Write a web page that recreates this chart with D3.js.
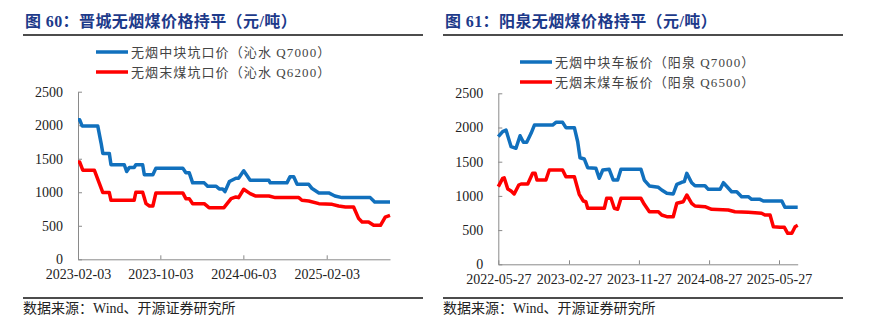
<!DOCTYPE html>
<html>
<head>
<meta charset="utf-8">
<script src="https://cdn.jsdelivr.net/npm/d3@7/dist/d3.min.js"></script>
<style>
  html, body { margin: 0; padding: 0; background: #fff; }
  svg { display: block; }
</style>
</head>
<body>
<svg id="chart" width="885" height="336"></svg>
<script>
// ---------------- Data ----------------
const titles = ["图 60：晋城无烟煤价格持平（元/吨）", "图 61：阳泉无烟煤价格持平（元/吨）"];
const legendLeft = ["无烟中块坑口价（沁水 Q7000）", "无烟末煤坑口价（沁水 Q6200）"];
const legendRight = ["无烟中块车板价（阳泉 Q7000）", "无烟末煤车板价（阳泉 Q6500）"];
const sourceText = "数据来源：Wind、开源证券研究所";
const yTicks = [0, 500, 1000, 1500, 2000, 2500];

const leftXTicks = ["2023-02-03", "2023-10-03", "2024-06-03", "2025-02-03"];
const rightXTicks = ["2022-05-27", "2023-02-27", "2023-11-27", "2024-08-27", "2025-05-27"];

// 晋城 无烟中块坑口价 (沁水 Q7000)
const leftBlueDates = ["2023-02-03","2023-02-08","2023-02-15","2023-04-02","2023-04-12","2023-04-17","2023-05-06","2023-05-11","2023-06-19","2023-06-26","2023-07-04","2023-07-18","2023-07-23","2023-08-12","2023-08-17","2023-09-11","2023-09-20","2023-12-08","2023-12-17","2023-12-27","2024-01-06","2024-02-09","2024-02-19","2024-03-15","2024-03-24","2024-04-03","2024-04-10","2024-04-23","2024-05-12","2024-05-20","2024-06-04","2024-06-23","2024-08-17","2024-08-21","2024-10-09","2024-10-18","2024-10-29","2024-11-08","2024-12-12","2024-12-22","2025-01-11","2025-02-09","2025-02-27","2025-03-20","2025-06-11","2025-06-24","2025-08-08"];
const leftBlue = [2080,2080,1990,1990,1730,1580,1580,1410,1410,1310,1370,1370,1410,1410,1260,1260,1360,1360,1290,1290,1140,1140,1090,1090,1050,1050,1010,1160,1210,1210,1320,1180,1180,1140,1140,1230,1230,1120,1120,1055,990,990,945,920,920,855,855];

// 晋城 无烟末煤坑口价 (沁水 Q6200)
const leftRedDates = ["2023-02-03","2023-02-08","2023-02-17","2023-03-23","2023-04-07","2023-04-17","2023-05-06","2023-05-11","2023-07-18","2023-07-23","2023-08-12","2023-08-22","2023-09-01","2023-09-11","2023-09-20","2023-12-08","2023-12-17","2023-12-27","2024-01-06","2024-02-09","2024-02-23","2024-04-07","2024-04-28","2024-05-12","2024-05-20","2024-06-04","2024-06-23","2024-07-08","2024-08-17","2024-09-05","2024-11-13","2024-11-22","2024-12-12","2025-01-11","2025-02-19","2025-03-10","2025-03-30","2025-04-23","2025-05-08","2025-05-18","2025-06-06","2025-06-21","2025-07-11","2025-07-25","2025-08-08"];
const leftRed = [1450,1450,1330,1330,1130,995,995,880,880,1000,1000,830,795,795,990,990,905,905,830,830,770,770,905,930,920,1045,980,945,945,920,920,880,870,830,820,795,780,780,607,557,557,507,507,630,656];

// 阳泉 无烟中块车板价 (阳泉 Q7000)
const rightBlueDates = ["2022-05-27","2022-06-13","2022-06-26","2022-07-16","2022-08-04","2022-08-20","2022-09-02","2022-09-15","2022-10-02","2022-10-15","2022-12-25","2023-01-07","2023-02-02","2023-02-15","2023-03-20","2023-04-02","2023-04-11","2023-04-28","2023-05-11","2023-06-12","2023-06-25","2023-07-09","2023-08-03","2023-08-19","2023-09-05","2023-09-18","2023-12-05","2023-12-18","2024-01-07","2024-02-11","2024-02-24","2024-03-15","2024-04-09","2024-04-23","2024-05-12","2024-05-22","2024-06-01","2024-06-20","2024-07-03","2024-08-11","2024-08-24","2024-10-09","2024-10-22","2024-11-23","2024-12-13","2025-01-01","2025-01-27","2025-02-09","2025-03-14","2025-03-27","2025-06-07","2025-06-19","2025-08-08"];
const rightBlue = [1866,1940,1963,1720,1696,1880,1784,1784,1915,2036,2036,2076,2076,1997,1997,1792,1558,1539,1412,1404,1257,1379,1389,1232,1232,1389,1389,1232,1145,1126,1086,1038,1028,1170,1199,1208,1330,1193,1149,1149,1096,1096,1193,1061,1061,988,988,950,950,925,925,833,833];

// 阳泉 无烟末煤车板价 (阳泉 Q6500)
const rightRedDates = ["2022-05-27","2022-06-13","2022-06-19","2022-07-03","2022-07-16","2022-07-28","2022-08-15","2022-08-24","2022-09-19","2022-10-08","2022-10-18","2022-10-25","2022-11-29","2022-12-12","2023-02-02","2023-02-15","2023-03-20","2023-04-08","2023-04-24","2023-05-04","2023-05-11","2023-07-15","2023-07-24","2023-08-10","2023-08-23","2023-09-05","2023-09-18","2023-12-05","2023-12-18","2024-01-07","2024-02-11","2024-02-24","2024-03-15","2024-04-09","2024-04-23","2024-05-18","2024-06-01","2024-06-20","2024-07-03","2024-08-11","2024-09-06","2024-11-10","2024-12-06","2025-01-27","2025-03-20","2025-04-02","2025-04-22","2025-05-05","2025-05-31","2025-06-17","2025-06-30","2025-07-16","2025-07-29","2025-08-08"];
const rightRed = [1135,1257,1265,1101,1072,1028,1159,1174,1174,1330,1330,1232,1232,1379,1379,1281,1281,1023,925,915,819,819,965,965,819,805,965,965,877,769,769,721,696,696,892,915,1013,892,852,842,804,794,769,760,746,721,721,550,541,541,453,453,550,570];

// ---------------- Drawing ----------------
const parse = d3.timeParse("%Y-%m-%d");
const svg = d3.select("#chart");
const BLUE = "#1170bd", RED = "#ff0000", AXIS = "#8a8a8a";
const SERIF = "'Liberation Serif','Times New Roman',serif";
const MIXED = "'Liberation Serif','Noto Sans CJK SC',serif";

function panel(cfg) {
  const g = svg.append("g");
  // Title
  g.append("text").attr("x", cfg.titleX).attr("y", 27)
    .attr("font-family", "'Liberation Serif','Noto Sans CJK SC',serif")
    .attr("font-weight", "bold").attr("font-size", 16).attr("fill", "#1d3a8a")
    .attr("letter-spacing", 0.4)
    .text(cfg.title);
  g.append("line").attr("x1", cfg.ruleX0).attr("x2", cfg.ruleX1).attr("y1", 35).attr("y2", 35)
    .attr("stroke", "#111").attr("stroke-width", 1.5);
  g.append("line").attr("x1", cfg.ruleX0).attr("x2", cfg.ruleX1).attr("y1", 298).attr("y2", 298)
    .attr("stroke", "#111").attr("stroke-width", 1.5);
  g.append("text").attr("x", cfg.ruleX0).attr("y", 313)
    .attr("font-family", MIXED).attr("font-size", 14).attr("fill", "#222")
    .text(sourceText);

  const x = d3.scaleTime()
    .domain([parse(cfg.xStart), parse(cfg.xEnd)])
    .range([cfg.left, cfg.right]);
  const y = d3.scaleLinear().domain([0, 2500]).range([cfg.bottom, cfg.top]);

  // Axes
  const yAxis = d3.axisLeft(y).tickValues(yTicks).tickFormat(d3.format("d"))
    .tickSizeInner(-4).tickSizeOuter(0).tickPadding(15);
  const ya = g.append("g").attr("transform", `translate(${cfg.left},0)`).call(yAxis);
  ya.selectAll("text").attr("font-family", SERIF).attr("font-size", 14).attr("fill", "#222");

  const xAxis = d3.axisBottom(x).tickValues(cfg.xTicks.map(parse))
    .tickFormat(d3.timeFormat("%Y-%m-%d")).tickSizeInner(-4).tickSizeOuter(0).tickPadding(10);
  const xa = g.append("g").attr("transform", `translate(0,${cfg.bottom})`).call(xAxis);
  xa.selectAll("text").attr("font-family", SERIF).attr("font-size", 14).attr("fill", "#222");
  [ya, xa].forEach(a => {
    a.selectAll("path,line").attr("stroke", AXIS).attr("stroke-width", 1);
  });

  // Lines
  const line = d3.line().x(d => x(d[0])).y(d => y(d[1]));
  cfg.series.forEach(s => {
    const pts = s.dates.map((d, i) => [parse(d), s.values[i]]);
    g.append("path").datum(pts).attr("d", line)
      .attr("fill", "none").attr("stroke", s.color).attr("stroke-width", 3.5)
      .attr("stroke-linejoin", "round").attr("stroke-linecap", "butt");
  });

  // Legend
  cfg.legend.forEach((txt, i) => {
    const ly = cfg.legendY + i * 20;
    g.append("line").attr("x1", cfg.legendX).attr("x2", cfg.legendX + 32)
      .attr("y1", ly).attr("y2", ly)
      .attr("stroke", cfg.series[i].color).attr("stroke-width", 3.5);
    g.append("text").attr("x", cfg.legendX + 35).attr("y", ly + 4.5)
      .attr("font-family", MIXED).attr("font-size", 13).attr("fill", "#444")
      .attr("letter-spacing", 1.1)
      .text(txt);
  });
}

panel({
  title: titles[0], titleX: 25, ruleX0: 23, ruleX1: 423,
  left: 78, right: 390, top: 91.7, bottom: 259.3,
  xStart: "2023-02-03", xEnd: "2025-08-08", xTicks: leftXTicks,
  legend: legendLeft, legendX: 96, legendY: 52,
  series: [
    { dates: leftBlueDates, values: leftBlue, color: BLUE },
    { dates: leftRedDates, values: leftRed, color: RED }
  ]
});

panel({
  title: titles[1], titleX: 445, ruleX0: 443, ruleX1: 843,
  left: 498.3, right: 797.7, top: 93.3, bottom: 264.3,
  xStart: "2022-05-27", xEnd: "2025-08-08", xTicks: rightXTicks,
  legend: legendRight, legendX: 520, legendY: 62,
  series: [
    { dates: rightBlueDates, values: rightBlue, color: BLUE },
    { dates: rightRedDates, values: rightRed, color: RED }
  ]
});
</script>
</body>
</html>
